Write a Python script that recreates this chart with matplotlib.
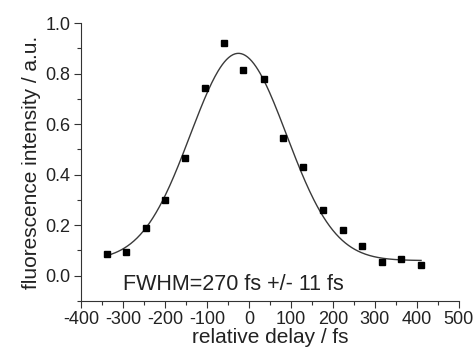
import matplotlib
matplotlib.use("Agg")
import matplotlib.pyplot as plt
import numpy as np
from matplotlib.ticker import MultipleLocator

plt.rcParams['font.family'] = ['Liberation Sans', 'DejaVu Sans']
plt.rcParams['axes.unicode_minus'] = False

# measured points
delay = [-339, -293, -246, -200, -152, -105, -59, -13, 35, 82, 129, 176, 223, 269, 316, 363, 410]
intensity = [0.086, 0.094, 0.19, 0.30, 0.465, 0.743, 0.919, 0.813, 0.779, 0.544,
             0.432, 0.259, 0.182, 0.116, 0.056, 0.066, 0.042]

# gaussian fit parameters
y0 = 0.06
amp = 0.82
xc = -25
fwhm = 270

xfit = np.linspace(min(delay), max(delay), 300)
sigma = fwhm / (2 * np.sqrt(2 * np.log(2)))
yfit = y0 + amp * np.exp(-(xfit - xc) ** 2 / (2 * sigma ** 2))

fig = plt.figure(figsize=(4.75, 3.54), dpi=100)
ax = fig.add_axes([0.1705, 0.1497, 0.7955, 0.7853])

ax.plot(xfit, yfit, color='#3a3a3a', lw=1.0)
ax.plot(delay, intensity, 's', color='black', markersize=5)

ax.set_xlim(-400, 500)
ax.set_ylim(-0.1, 1.0)
ax.xaxis.set_major_locator(MultipleLocator(100))
ax.xaxis.set_minor_locator(MultipleLocator(50))
ax.yaxis.set_minor_locator(MultipleLocator(0.1))
ax.set_yticks([0.0, 0.2, 0.4, 0.6, 0.8, 1.0])
ax.set_yticklabels(['0.0', '0.2', '0.4', '0.6', '0.8', '1.0'])

for s in ['top', 'right']:
    ax.spines[s].set_visible(False)
for s in ['left', 'bottom']:
    ax.spines[s].set_color('#333333')

ax.tick_params(which='major', direction='out', length=5, width=0.8, labelsize=13, colors='#333333', pad=2.5)
ax.tick_params(which='minor', direction='out', length=3, width=0.8, colors='#333333')
for lab in ax.get_xticklabels() + ax.get_yticklabels():
    lab.set_color('#222222')

ax.set_xlabel('relative delay / fs', fontsize=15, color='#222222', labelpad=0)
ax.set_ylabel('fluorescence intensity / a.u.', fontsize=15, color='#222222', labelpad=3)

ax.text(-300, -0.057, 'FWHM=270 fs +/- 11 fs', fontsize=15.5, color='#222222')

fig.savefig('out.png', dpi=100)
